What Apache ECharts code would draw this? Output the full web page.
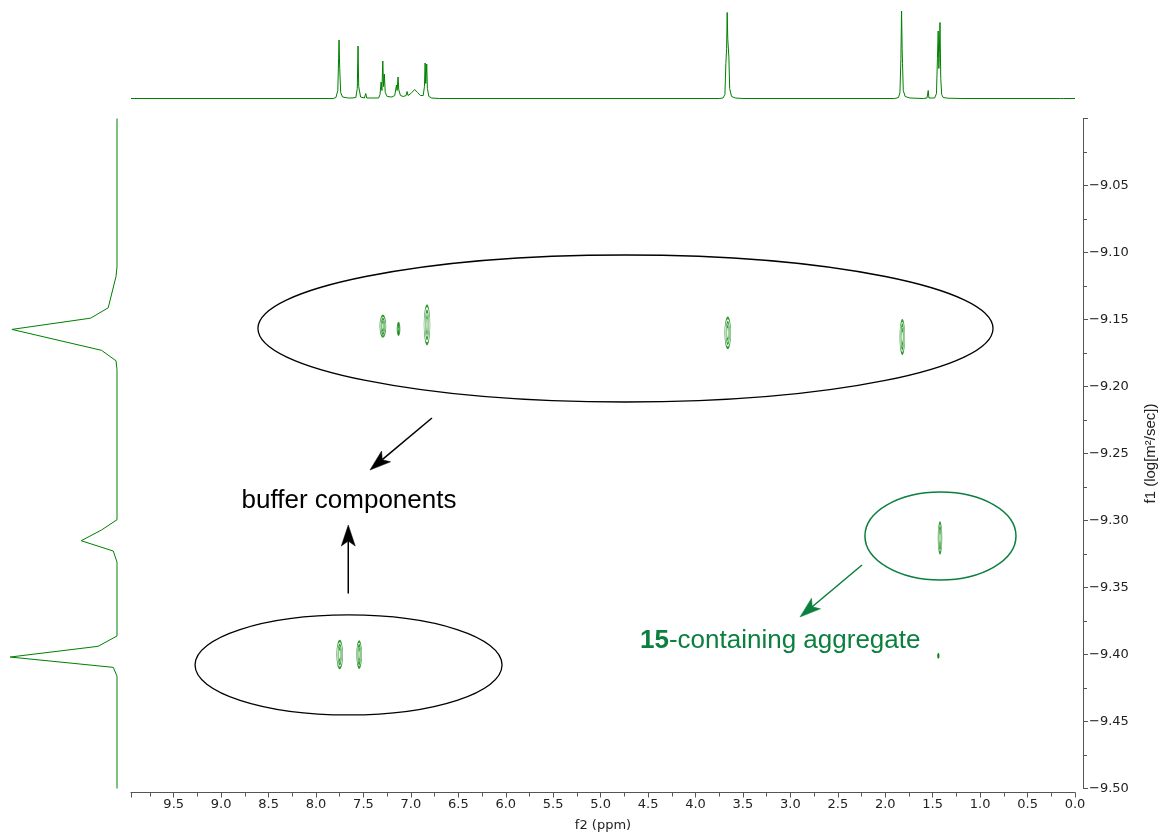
<!DOCTYPE html>
<html><head><meta charset="utf-8">
<script src="https://cdn.jsdelivr.net/npm/echarts@6/dist/echarts.min.js"></script>
<style>html,body{margin:0;padding:0;background:#fff}#c{width:1159px;height:834px}</style>
</head><body><div id="c"></div>
<script>
// ---------------- data ----------------
const f2Range = [0, 9.95];          // ppm
const f1Range = [-9.5, -9.0];       // log(m2/sec)
const f2Interval = 0.5;
const f1Interval = 0.05;

// 1D proton spectrum (top trace)
const spectrumPpm = [9.95, 7.82, 7.79, 7.77, 7.762, 7.757, 7.75, 7.74, 7.72, 7.66, 7.64, 7.62, 7.58, 7.565, 7.557, 7.55, 7.53, 7.49, 7.476, 7.465,
  7.34, 7.325, 7.314, 7.305, 7.296, 7.288, 7.28, 7.27, 7.25, 7.2, 7.17, 7.152, 7.145, 7.135, 7.128, 7.12, 7.11, 7.08, 7.05, 7.04, 7.03, 7.0, 6.96, 6.93, 6.9,
  6.87, 6.857, 6.85, 6.843, 6.833, 6.826, 6.81, 6.78, 6.7,
  3.75, 3.71, 3.69, 3.68, 3.672, 3.666, 3.66, 3.648, 3.64, 3.62, 3.58, 3.5,
  1.9, 1.86, 1.845, 1.835, 1.828, 1.822, 1.818, 1.81, 1.79, 1.74, 1.6, 1.56, 1.547, 1.54, 1.48, 1.46, 1.45, 1.442, 1.435, 1.43, 1.423, 1.415, 1.405, 1.39, 1.34, 1.2,
  0.15, 0.13, 0.12, 0];
const spectrumIntensity = [0, 0, 1, 8, 40, 58.5, 30, 6, 1.5, 0.5, 1.8, 0.5, 1, 10, 52.5, 12, 1.5, 0.5, 5, 0.5,
  0.5, 4, 16.5, 8, 37.5, 12, 24.5, 6, 2, 1.5, 3, 13.5, 8, 21.5, 9, 8, 3, 2, 3, 7, 3, 5, 9, 6, 3,
  3, 12, 35.5, 15, 34.5, 10, 2, 0.5, 0,
  0, 0.5, 4, 35, 50, 86, 60, 41, 10, 2, 0.5, 0,
  0, 1, 6, 40, 87.5, 50, 35, 8, 2, 0.5, 0, 0.5, 8, 0.5, 0.5, 5, 40, 67.5, 30, 45, 76, 20, 4, 1, 0.3, 0,
  0, 1.5, 0, 0];

// diffusion projection (left trace)
const projLogD = [-9.0, -9.1106, -9.1179, -9.1413, -9.149, -9.1574, -9.173, -9.1808, -9.1874,
  -9.2994, -9.3071, -9.3151, -9.3228, -9.3311, -9.3862, -9.3939, -9.4019, -9.4096, -9.4162, -9.5];
const projIntensity = [0, 0, 1, 8.8, 26.4, 105.1, 15.5, 1, 0,
  0, 15.5, 35.8, 3.7, 0, 0, 18.9, 106.8, 3.7, 0, 0];

// 2D DOSY cross peaks
const peakPpm  = [7.295, 7.13, 6.83, 3.66, 1.82, 1.423, 1.44, 7.75, 7.545];
const peakLogD = [-9.155, -9.157, -9.154, -9.160, -9.163, -9.313, -9.401, -9.400, -9.400];

// ---------------- styles ----------------
const GREEN = '#008000';
const ANNO_GREEN = '#0b7f3e';
const peakSizePx = [[6, 21], [3, 12], [6, 38], [6, 30], [5, 33], [4, 30], [1.5, 4], [6, 27], [5, 26]];
const contourLevels = [[1, 1], [0.6, 0.72], [0.3, 0.45]];

const chart = echarts.init(document.getElementById('c'), null, {renderer: 'canvas'});

const GRID_LEFT = 131, GRID_W = 944, GRID_TOP = 118.5, GRID_H = 670;
const YAXIS_X = 1083;

const axisFont = {fontFamily: 'DejaVu Sans', fontSize: 13, color: '#222'};
const noBounds = {outerBoundsMode: 'none', containLabel: false};

const contourSeries = contourLevels.map((lv, li) => ({
  type: 'scatter', xAxisIndex: 0, yAxisIndex: 0,
  data: peakPpm.map((p, i) => [p, peakLogD[i]]),
  symbol: 'circle',
  symbolSize: (val, params) => [peakSizePx[params.dataIndex][0] * lv[0], peakSizePx[params.dataIndex][1] * lv[1]],
  itemStyle: {color: 'rgba(0,0,0,0)', borderColor: GREEN, borderWidth: 1.2},
  silent: true, z: 3
}));

const option = {
  animation: false,
  backgroundColor: '#fff',
  grid: [
    Object.assign({left: GRID_LEFT, top: GRID_TOP, width: GRID_W, height: GRID_H}, noBounds),
    Object.assign({left: GRID_LEFT, top: 0, width: GRID_W, height: 98.5}, noBounds),
    Object.assign({left: 0, top: GRID_TOP, width: 117, height: GRID_H}, noBounds),
    Object.assign({left: GRID_LEFT, top: GRID_TOP, width: YAXIS_X - GRID_LEFT, height: GRID_H}, noBounds)
  ],
  xAxis: [
    {gridIndex: 0, type: 'value', inverse: true, min: f2Range[0], max: f2Range[1], interval: f2Interval,
      position: 'bottom', offset: 4,
      axisLine: {show: true, onZero: false, lineStyle: {color: '#555', width: 1}},
      axisTick: {show: true, length: 5, lineStyle: {color: '#555'}},
      minorTick: {show: true, splitNumber: 2, length: 4, lineStyle: {color: '#555'}},
      splitLine: {show: false},
      axisLabel: Object.assign({margin: 6, showMaxLabel: false,
        formatter: v => (Math.abs(v * 2 - Math.round(v * 2)) < 1e-6 ? v.toFixed(1) : '')}, axisFont),
      name: 'f2 (ppm)', nameLocation: 'middle', nameGap: 27,
      nameTextStyle: {fontFamily: 'DejaVu Sans', fontSize: 13, color: '#222'}
    },
    {gridIndex: 1, type: 'value', inverse: true, min: f2Range[0], max: f2Range[1], show: false},
    {gridIndex: 2, type: 'value', inverse: true, min: 0, max: 117, show: false},
    {gridIndex: 3, type: 'value', min: 0, max: 1, show: false}
  ],
  yAxis: [
    {gridIndex: 0, type: 'value', min: f1Range[0], max: f1Range[1], show: false},
    {gridIndex: 1, type: 'value', min: 0, max: 98.5, show: false},
    {gridIndex: 2, type: 'value', min: f1Range[0], max: f1Range[1], show: false},
    {gridIndex: 3, type: 'value', min: f1Range[0], max: f1Range[1], interval: f1Interval,
      position: 'right',
      axisLine: {show: true, onZero: false, lineStyle: {color: '#555', width: 1}},
      axisTick: {show: true, inside: false, length: 5, lineStyle: {color: '#555'}},
      minorTick: {show: true, splitNumber: 2, length: 4, lineStyle: {color: '#555'}},
      splitLine: {show: false},
      axisLabel: Object.assign({margin: 6, showMaxLabel: false,
        formatter: v => (v < 0 ? '\u2212' : '') + Math.abs(v).toFixed(2)}, axisFont),
      name: 'f1 (log[m²/sec])', nameLocation: 'middle', nameGap: 60, nameRotate: 90,
      nameTextStyle: {fontFamily: '"Liberation Sans Narrow", "Liberation Sans"', fontSize: 15, color: '#222'}
    }
  ],
  series: [
    {type: 'line', xAxisIndex: 1, yAxisIndex: 1, data: spectrumPpm.map((p, i) => [p, spectrumIntensity[i]]),
      showSymbol: false, lineStyle: {color: GREEN, width: 1}, silent: true},
    {type: 'line', xAxisIndex: 2, yAxisIndex: 2, data: projLogD.map((d, i) => [projIntensity[i], d]),
      showSymbol: false, lineStyle: {color: GREEN, width: 1}, silent: true}
  ].concat(contourSeries)
};
chart.setOption(option);

// ---------------- annotations (anchored in data coordinates) ----------------
const px = (ppm, logD) => chart.convertToPixel({xAxisIndex: 0, yAxisIndex: 0}, [ppm, logD]);
const ppmPerPx = (f2Range[1] - f2Range[0]) / GRID_W;
const logDPerPx = (f1Range[1] - f1Range[0]) / GRID_H;

const ellipses = [
  {c: [4.738, -9.1567], rx: 3.874, ry: 0.05485, color: '#000', w: 1.3},
  {c: [7.657, -9.4078], rx: 1.618, ry: 0.0373, color: '#000', w: 1.3},
  {c: [1.418, -9.3116], rx: 0.796, ry: 0.0328, color: ANNO_GREEN, w: 1.5}
];
const arrows = [
  {from: [6.778, -9.2235], to: [7.431, -9.2623], color: '#000'},
  {from: [7.660, -9.3545], to: [7.660, -9.3034], color: '#000'},
  {from: [2.245, -9.3332], to: [2.899, -9.3720], color: ANNO_GREEN}
];

const graphics = [];
ellipses.forEach(e => {
  const c = px(e.c[0], e.c[1]);
  graphics.push({type: 'ellipse', shape: {cx: c[0], cy: c[1], rx: e.rx / ppmPerPx, ry: e.ry / logDPerPx},
    style: {fill: null, stroke: e.color, lineWidth: e.w}, z: 10, silent: true});
});
arrows.forEach(a => {
  const f = px(a.from[0], a.from[1]);
  const t = px(a.to[0], a.to[1]);
  const dx = t[0] - f[0], dy = t[1] - f[1];
  const len = Math.hypot(dx, dy);
  const ux = dx / len, uy = dy / len, nx = -uy, ny = ux;
  const L = 21, W = 7, N = 5;
  const bx = t[0] - ux * L, by = t[1] - uy * L;
  const nxp = t[0] - ux * (L - N), nyp = t[1] - uy * (L - N);
  graphics.push({type: 'line', shape: {x1: f[0], y1: f[1], x2: nxp, y2: nyp},
    style: {stroke: a.color, lineWidth: 1.5}, z: 10, silent: true});
  graphics.push({type: 'polygon', shape: {points: [[t[0], t[1]], [bx + nx * W, by + ny * W], [nxp, nyp], [bx - nx * W, by - ny * W]]},
    style: {fill: a.color, stroke: a.color, lineWidth: 0.5}, z: 10, silent: true});
});
const t1 = px(7.652, -9.2855);
graphics.push({type: 'text', x: t1[0], y: t1[1], z: 10, silent: true,
  style: {text: 'buffer components', fill: '#000', font: '26px "Liberation Sans", Arial, sans-serif',
    textAlign: 'center', textVerticalAlign: 'middle'}});
const t2 = px(4.585, -9.3897);
graphics.push({type: 'text', x: t2[0], y: t2[1], z: 10, silent: true,
  style: {text: '{b|15}-containing aggregate', fill: ANNO_GREEN, font: '26px "Liberation Sans", Arial, sans-serif',
    textAlign: 'left', textVerticalAlign: 'middle',
    rich: {b: {fontWeight: 'bold', fontSize: 26, fontFamily: '"Liberation Sans", Arial, sans-serif', fill: ANNO_GREEN}}}});
chart.setOption({graphic: {elements: graphics}});
</script>
</body></html>
